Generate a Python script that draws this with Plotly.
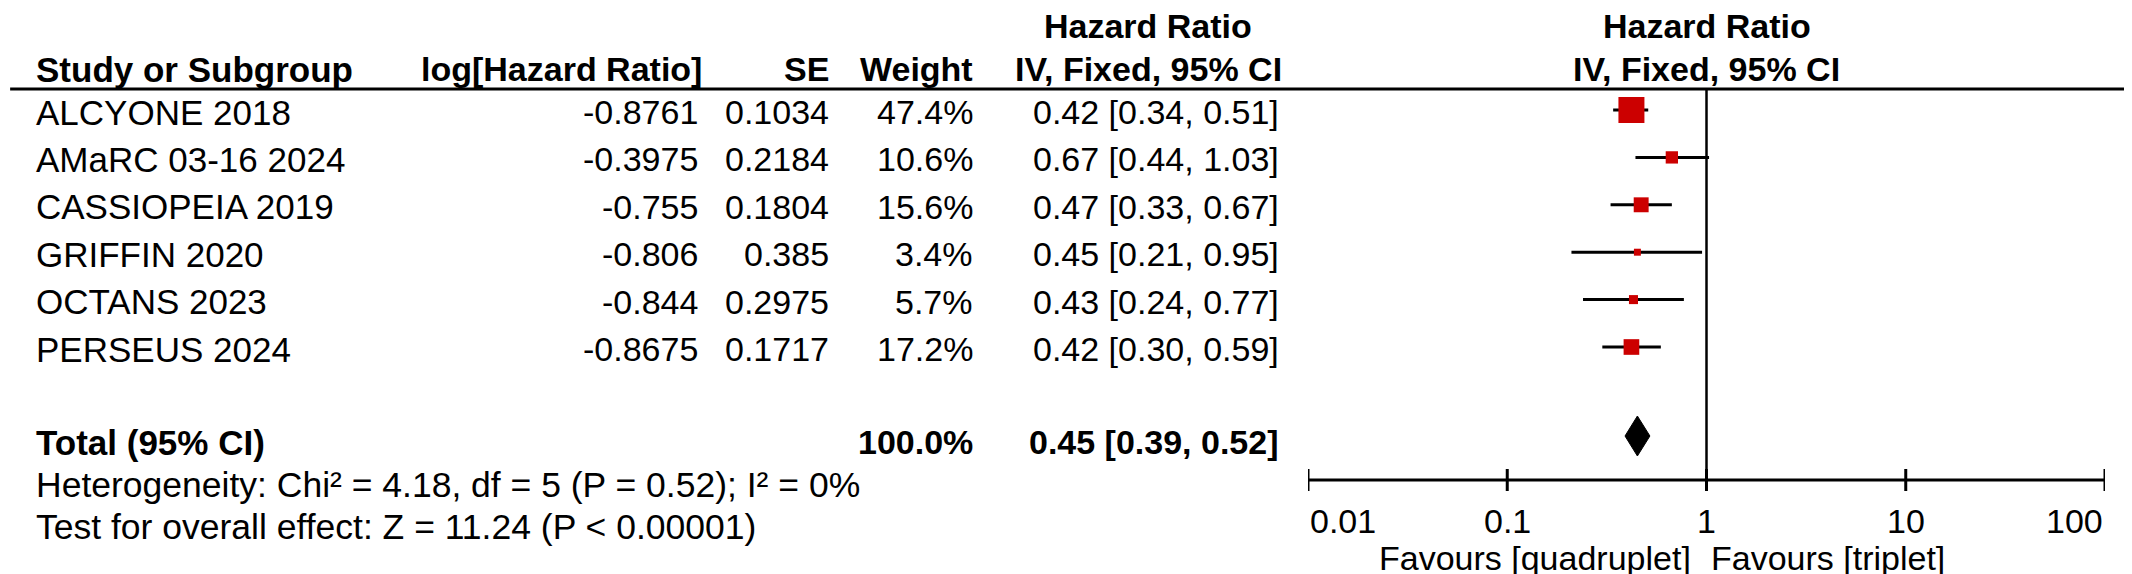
import math
import plotly.graph_objects as go

# ---------------- data ----------------
studies = ["ALCYONE 2018", "AMaRC 03-16 2024", "CASSIOPEIA 2019", "GRIFFIN 2020", "OCTANS 2023", "PERSEUS 2024"]
log_hr = ["-0.8761", "-0.3975", "-0.755", "-0.806", "-0.844", "-0.8675"]
se = ["0.1034", "0.2184", "0.1804", "0.385", "0.2975", "0.1717"]
weight = [47.4, 10.6, 15.6, 3.4, 5.7, 17.2]
hr = [0.42, 0.67, 0.47, 0.45, 0.43, 0.42]
ci_lo = [0.34, 0.44, 0.33, 0.21, 0.24, 0.30]
ci_hi = [0.51, 1.03, 0.67, 0.95, 0.77, 0.59]
total_hr, total_lo, total_hi = 0.45, 0.39, 0.52
total_weight = "100.0%"
heterogeneity = "Heterogeneity: Chi² = 4.18, df = 5 (P = 0.52); I² = 0%"
overall = "Test for overall effect: Z = 11.24 (P < 0.00001)"
tick_vals = [0.01, 0.1, 1, 10, 100]
tick_text = ["0.01", "0.1", "1", "10", "100"]
favours_left = "Favours [quadruplet]"
favours_right = "Favours [triplet]"

# ---------------- layout constants (pixels) ----------------
W, H = 2132, 574
FONT = "Liberation Sans, Arial, sans-serif"
FS = 34
FS_TXT = 35
RED = "#CC0000"
row_y0, row_dy = 102, 47.4
text_dy = 2
total_y = 428
het_y, ovr_y = 477, 519
head1_y, head2_y, rule_y = 18, 61, 81
axis_y = 472
tick_lab_y, fav_y = 513, 550
x_left_px, x_right_px = 1300, 2097

col_study = 26
col_log = 692
col_se = 823
col_w = 967
col_hr = 1273
col_hr_c = 1140

fig = go.Figure()

def px(x):
    return x / W

annotations = []

def txt(text, x, y, anchor="left", bold=False, xref="paper", xshift=0, size=FS):
    annotations.append(dict(
        text=f"<b>{text}</b>" if bold else text,
        x=px(x) if xref == "paper" else math.log10(x), y=y, xref=xref, yref="y",
        xanchor=anchor, yanchor="middle", showarrow=False, xshift=xshift,
        font=dict(family=FONT, size=size, color="black"),
    ))

# headers
txt("Study or Subgroup", col_study, head2_y, bold=True, size=FS_TXT)
txt("log[Hazard Ratio]", col_log + 4, head2_y, "right", bold=True)
txt("SE", col_se, head2_y, "right", bold=True)
txt("Weight", col_w, head2_y, "right", bold=True)
txt("Hazard Ratio", col_hr_c, head1_y, "center", bold=True)
txt("IV, Fixed, 95% CI", col_hr_c, head2_y, "center", bold=True)
txt("Hazard Ratio", 1, head1_y, "center", bold=True, xref="x")
txt("IV, Fixed, 95% CI", 1, head2_y, "center", bold=True, xref="x")

# study rows
row_ys = [row_y0 + i * row_dy for i in range(len(studies))]
for i, s in enumerate(studies):
    y = row_ys[i] + text_dy
    txt(s, col_study, y, size=FS_TXT)
    txt(log_hr[i], col_log, y, "right")
    txt(se[i], col_se, y, "right")
    txt(f"{weight[i]:.1f}%", col_w, y, "right")
    txt(f"{hr[i]:.2f} [{ci_lo[i]:.2f}, {ci_hi[i]:.2f}]", col_hr, y, "right")

# total row
ty = total_y + text_dy + 4
txt("Total (95% CI)", col_study, ty, bold=True, size=FS_TXT)
txt(total_weight, col_w, ty, "right", bold=True)
txt(f"{total_hr:.2f} [{total_lo:.2f}, {total_hi:.2f}]", col_hr, ty, "right", bold=True)
txt(heterogeneity, col_study, het_y, size=35.5)
txt(overall, col_study, ovr_y, size=35.5)

# axis tick labels
anchors = ["left", "center", "center", "center", "right"]
for v, t, a in zip(tick_vals, tick_text, anchors):
    txt(t, v, tick_lab_y, a, xref="x")
txt(favours_left, 1, fav_y, "right", xref="x", xshift=-14)
txt(favours_right, 1, fav_y, "left", xref="x", xshift=2)

# CI lines
for i in range(len(studies)):
    fig.add_trace(go.Scatter(
        x=[ci_lo[i], ci_hi[i]], y=[row_ys[i], row_ys[i]], mode="lines",
        line=dict(color="black", width=3), hoverinfo="skip", showlegend=False))

# boxes
fig.add_trace(go.Scatter(
    x=hr, y=row_ys, mode="markers", opacity=1,
    marker=dict(symbol="square", color=RED, opacity=1,
                size=[26 * math.sqrt(w / max(weight)) for w in weight],
                line=dict(width=0)),
    showlegend=False, hoverinfo="skip"))

# diamond
fig.add_trace(go.Scatter(
    x=[total_lo, total_hr, total_hi, total_hr, total_lo],
    y=[total_y, total_y - 20, total_y, total_y + 20, total_y],
    mode="lines", fill="toself", fillcolor="black",
    line=dict(color="black", width=1), showlegend=False, hoverinfo="skip"))

shapes = []
# header rule
shapes.append(dict(type="line", xref="paper", yref="y", x0=0.001, x1=1, y0=rule_y, y1=rule_y,
                   line=dict(color="black", width=3)))
# null line
shapes.append(dict(type="line", xref="x", yref="y", x0=1, x1=1, y0=rule_y, y1=axis_y + 11,
                   line=dict(color="black", width=2.5)))
# axis
shapes.append(dict(type="line", xref="x", yref="y", x0=tick_vals[0], x1=tick_vals[-1], y0=axis_y, y1=axis_y,
                   line=dict(color="black", width=3)))
for v in tick_vals:
    shapes.append(dict(type="line", xref="x", yref="y", x0=v, x1=v, y0=axis_y - 11, y1=axis_y + 11,
                       line=dict(color="black", width=3)))

fig.update_layout(
    width=W, height=H, margin=dict(l=0, r=0, t=0, b=0),
    paper_bgcolor="white", plot_bgcolor="white",
    xaxis=dict(type="log", range=[-2, 2], domain=[x_left_px / W, x_right_px / W], visible=False),
    yaxis=dict(range=[H, 0], domain=[0, 1], visible=False),
    annotations=annotations, shapes=shapes, showlegend=False,
)

fig.write_html("out.html")
